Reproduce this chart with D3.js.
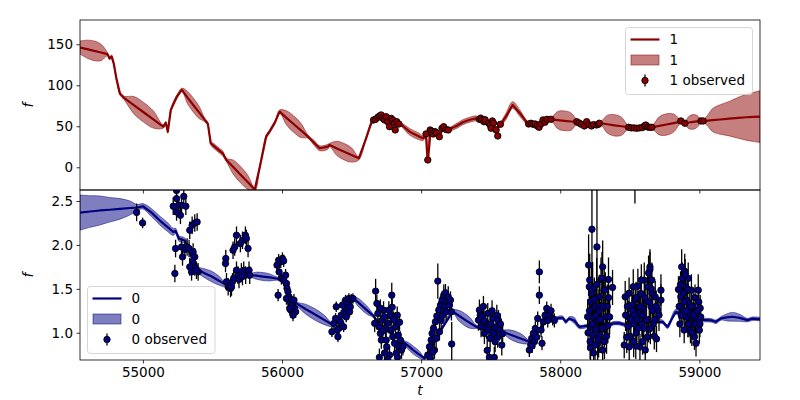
<!DOCTYPE html>
<html><head><meta charset="utf-8">
<script src="https://cdn.jsdelivr.net/npm/d3@7"></script>
<style>body{margin:0;background:#fff}svg{display:block}text{font-family:"DejaVu Sans",sans-serif;fill:#000}</style>
</head><body><svg id="c" width="800" height="400"></svg>
<script>
// ---------- data ----------
const xTicks = [55000, 56000, 57000, 58000, 59000];
const yTicksTop = [0, 50, 100, 150];
const yTicksBot = [1.0, 1.5, 2.0, 2.5];
const seriesTop = "1", seriesBot = "0";

// series "1" model (mean, half-width of band)
const model1T = [54548,54600,54650,54700,54745, 54760,54775,54790,54810,54835, 54864,54935,55005,55075,55146, 55165,55179,55201,55244,55280,
 55321,55362,55404,55445,55467, 55488,55510,55531,55552,55574, 55600,55651,55702,55753,55804, 55840,55886,55910,55950,55983,
 56034,56085,56136,56187,56230, 56271,56330,56342,56395,56447, 56500,56552,56600,56641,56660, 56690,56710,56740,56770,56800,
 56845,56917,56989,57012,57035, 57046,57050,57068,57100,57131, 57160,57195,57250,57300,57350, 57395,57420,57460,57500,57540,
 57570,57610,57658,57710,57766, 57800,57850,57890,57934,57982, 58030,58078,58125,58170,58230, 58290,58340,58390,58440,58491,
 58560,58620,58660,58712,58764, 58815,58867,58896,58925,58954, 58982,59011,59028,59045,59062, 59094,59150,59215,59280,59336,
 59390,59436];
const model1F = [146,144,142,140,138, 133,135,127,108,90, 84.7,75.8,67.1,58.3,49.5, 54,43.5,70,86,94.5,
 85,76,67,57.7,53, 29.3,26,23,20,17, 9,0,-9,-18,-27, 0,37.3,43.4,55,67.8,
 60,52.5,45,37.3,30, 23.2,25.1,27.2,23,19, 15,11,33,53.7,57.7, 61,63,59,55,56,
 53.7,43.4,37.3,35.4,38, 10,10,44,43,38.5, 47.6,46,50,55,58, 59.7,58.5,56,52,47,
 52.4,62,76,66,53.7, 53,52,56,58.5,57.6, 56.7,55.8,54.9,52,52, 53.7,52.5,51.2,50,48.8,
 48,49,48.8,50.5,52.2, 53.9,55.6,54,54.6,55.3, 55.9,56.5,56.5,56.7,57, 57.5,58.3,59.3,60.3,61,
 61.4,61.7];
const model1S = [8,11,12,10,2, 2,2,2,2,2, 2,10.5,12,10.5,2, 2,2,2,2,2,
 7.5,8.5,7.5,2,2, 2,3,3,3,3, 2,8.7,10,8.7,2, 2,2,2,2,2,
 8.7,10,8.7,2,3, 3,3,2,8.7,10, 8.7,2,2,2,2, 2,2,2,2,2,
 2,4,4,3,2, 3,3,2,2,2, 2,2,3,3,3, 3,2,2,2,2,
 2,4,4,4,2, 2,2,2,2,10.5, 12,10.5,2,2,2, 2,11,13,11,2,
 2,2,2,11,13, 11,2,2,7.5,9, 7.5,2,2,4,7, 14,18,21,25,28,
 30,31.5];

// series "1" observations
const obs1T = [56658,56673,56689,56701,56713,56725,56737,56749,56760,56773,56785,56796,56809,56814,56825,56840,
 57035,57048,57065,57076,57087,57100,57110,57131,57150,57162,57180,57195,
 57419,57428,57436,57452,57460,57486,57496,57503,57512,57520,57539,57551,57570,
 57773,57790,57805,57820,57835,57848,57862,57876,57891,57905,57934,
 58118,58135,58152,58173,58190,58205,58225,58240,58262,58275,58281,
 58491,58510,58530,58550,58570,58590,58605,58615,58630,58645,58659,
 58867,58896,59011,59028];
const obs1F = [57.7,58.5,61,62.6,63.8,59.7,57.7,61.7,55.6,49.5,59.7,57.7,53.7,45.5,55.6,52.8,
 40.6,8.9,45.5,44,40.6,43.4,42,37.3,47.6,49.5,46,45.5,
 58.5,60,57.7,55.6,58,53.7,51.6,47.6,56.5,54,45.5,38.2,52.4,
 52.8,53.7,52.4,52.8,50.4,48.8,53,57.7,55,58.5,58.5,
 55.6,54,52.4,50.4,55.6,52,50.4,52,51.6,52.5,53.7,
 48.8,48,48,47.6,48,48.4,50.4,51.5,49,48.8,48.8,
 56.5,53.7,56.5,56.5];
const obs1E = obs1T.map(() => 1.5);

// series "0" model
const model0T = [54548,54620,54691,54760,54835, 54907,54960,55000,55060,55120, 55180,55218,55235,55260,55301,
 55340,55385,55440,55495,55550, 55600,55650,55700,55768,55816, 55864,55912,55960,56000,56050,
 56103,56169,56235,56300,56366, 56400,56450,56509,56545,56580, 56616,56652,56700,56780,56869,
 56908,56946,56985,57024,57080, 57150,57228,57270,57311,57353, 57395,57450,57520,57586,57634,
 57682,57730,57778,57830,57880, 57934,57970,58018,58040,58065, 58101,58137,58200,58280,58352,
 58380,58420,58472,58550,58650, 58735,58771,58831,58900,58980, 59047,59090,59119,59155,59197,
 59238,59290,59345,59380,59436];
const model0F = [2.368,2.38,2.392,2.40,2.41, 2.42,2.425,2.44,2.37,2.28, 2.20,2.148,2.16,2.07,2.05,
 1.90,1.73,1.68,1.64,1.59, 1.542,1.6,1.68,1.656,1.65, 1.64,1.63,1.618,1.6,1.45,
 1.334,1.27,1.21,1.15,1.088, 1.12,1.25,1.39,1.35,1.30, 1.25,1.20,1.1,1.0,0.898,
 0.85,0.80,0.755,0.709,0.85, 1.05,1.239,1.196,1.153,1.11, 1.068,1.05,1.02,1.011,0.983,
 0.955,0.926,0.898,0.98,1.1, 1.15,1.163,1.17,1.125,1.163, 1.14,1.068,1.08,1.1,1.088,
 1.107,1.11,1.088,1.1,1.12, 1.125,1.068,1.239,1.2,1.15, 1.144,1.14,1.125,1.163,1.175,
 1.182,1.17,1.144,1.16,1.156];
const model0S = [0.20,0.18,0.165,0.14,0.117, 0.08,0.035,0.03,0.045,0.05, 0.05,0.04,0.03,0.03,0.03,
 0.03,0.03,0.05,0.06,0.05, 0.02,0.02,0.02,0.02,0.04, 0.045,0.04,0.02,0.02,0.02,
 0.02,0.055,0.065,0.055,0.02, 0.02,0.02,0.02,0.045,0.05, 0.045,0.02,0.02,0.02,0.02,
 0.04,0.045,0.04,0.02,0.02, 0.02,0.02,0.06,0.07,0.06, 0.02,0.02,0.02,0.02,0.05,
 0.06,0.05,0.02,0.02,0.02, 0.02,0.02,0.02,0.02,0.02, 0.035,0.02,0.02,0.02,0.02,
 0.02,0.02,0.02,0.02,0.02, 0.02,0.02,0.03,0.02,0.02, 0.02,0.02,0.02,0.02,0.04,
 0.05,0.04,0.02,0.02,0.02];

// series "0" observations
const obs0T = [54955,54998,
 55218,55242,55258,55270,55242,55278,55294,55309,55242,55235,55230,55278,55285,55302,55318,55332,55337,55354,55373,55390,55361,55373,55357,55373,55397,55337,55350,55385,
 55596,55594,55601,55613,55630,55644,55648,55660,55673,55673,55684,55691,55701,55716,55725,55737,55744,55756,55763,55739,55768,55708,55716,55637,55653,
 55972,55964,55976,55991,56003,56012,55979,55996,56012,56026,56032,56036,56043,56050,56055,56062,56075,56086,56091,56098,56062,56079,56032,56055,
 56359,56373,56385,56390,56402,56409,56419,56426,56434,56443,56450,56457,56467,56474,56481,56491,56498,56510,56486,56462,56395,
 56673,56682,56666,56689,56697,56707,56714,56721,56730,56737,56744,56749,56753,56761,56768,56778,56785,56789,56796,56802,56809,56816,56821,56828,56836,56840,56850,56859,56869,56773,56737,56707,56725,56792,56845,56700,56760,56830,
 57048,57060,57072,57079,57089,57096,57103,57108,57113,57120,57127,57132,57139,57144,57151,57156,57163,57170,57175,57180,57187,57195,57204,57211,57218,57220,57084,57065,
 57412,57419,57425,57431,57440,57448,57455,57462,57470,57479,57487,57491,57496,57503,57510,57515,57520,57526,57532,57538,57544,57550,57556,57563,57570,57580,57586,57475,57452,
 57778,57788,57795,57807,57814,57821,57831,57838,57850,57850,57862,57869,57879,57891,57903,57910,57922,57934,57946,57958,57798,
 58204,58209,58197,58218,58221,58228,58233,58235,58240,58252,58254,58264,58269,58273,58281,58285,58293,58297,58305,58316,58322,58328,58333,58347,58347,58376,58240,58218,58283,58324,58355,58305,
 58200,58210,58215,58226,58230,58245,58250,58258,58262,58276,58279,58289,58300,58310,58318,58338,58342,58212,58300,
 58537,
 58467,58460,58488,58491,58502,58515,58525,58530,58539,58548,58558,58563,58573,58580,58587,58597,58604,58611,58616,58628,58635,58645,58645,58652,58659,58669,58676,58683,58692,58700,58724,58724,58496,58592,58543,58659,58635,58568,
 58470,58478,58483,58495,58508,58520,58528,58535,58545,58552,58560,58575,58583,58590,58600,58608,58620,58625,58640,58648,58655,58665,58680,58690,58710,
 58850,58860,58867,58873,58878,58882,58891,58895,58903,58905,58910,58917,58920,58927,58936,58943,58950,58956,58965,58969,58976,58983,58992,59000,59006,59010,58898,58932,
 58855,58865,58870,58886,58892,58908,58913,58925,58940,58946,58960,58972,58988,58996,59004];
const obs0F = [2.37,2.25,
 2.44,2.527,2.451,2.337,2.375,2.451,2.553,2.44,2.62,1.959,1.675,1.977,1.864,1.948,1.977,1.959,2.167,2.224,2.25,2.261,1.92,1.864,1.807,1.75,1.693,1.75,1.693,1.712,
 1.845,1.789,1.58,1.523,1.505,1.58,1.94,1.977,2.11,1.712,1.656,1.607,2.016,2.053,1.712,2.11,2.073,1.959,1.712,1.656,1.656,1.693,1.64,1.52,1.62,
 1.428,1.77,1.826,1.807,1.845,1.818,1.693,1.618,1.599,1.656,1.561,1.505,1.466,1.409,1.372,1.334,1.315,1.372,1.277,1.239,1.258,1.2,1.39,1.277,
 1.011,1.107,1.163,1.296,0.955,1.05,1.125,1.2,1.315,1.068,1.239,1.372,1.277,1.334,1.39,1.296,1.38,1.39,1.24,1.18,1.03,
 1.474,1.334,1.107,1.22,1.068,0.993,0.917,1.144,1.258,1.182,1.05,0.917,0.841,1.107,1.258,1.2,1.031,1.428,0.955,1.144,0.88,1.068,0.766,1.2,0.974,0.841,0.917,0.803,0.841,0.747,0.77,1.28,1.02,1.29,1.12,0.72,0.7,0.72,
 0.747,0.841,0.917,0.993,1.05,0.803,1.125,0.936,1.19,1.588,1.258,1.011,1.315,1.144,1.372,1.2,1.428,1.296,1.455,1.239,1.353,1.409,1.315,1.372,1.239,0.872,0.78,0.71,
 1.144,1.258,1.2,1.068,1.18,1.3,0.993,1.12,1.05,1.22,1.03,0.72,0.936,1.1,1.25,1.163,0.99,0.72,0.898,1.06,1.2,0.95,1.14,1.031,1.1,0.86,0.99,0.8,1.14,
 0.803,0.86,0.936,0.993,0.9,1.05,0.95,1.163,1.693,1.428,1.031,0.88,1.125,1.2,1.277,1.14,1.2,1.25,1.163,1.14,0.85,
 1.77,1.523,1.182,1.35,1.068,2.178,1.505,0.97,1.18,1.296,1.04,1.977,0.88,1.14,1.409,0.97,1.607,1.3,0.803,1.485,1.07,1.18,0.96,1.607,1.4,1.516,0.77,0.83,1.3,1.49,1.18,1.75,
 1.0,1.25,0.9,1.45,1.1,1.38,0.86,1.2,1.55,0.92,1.25,1.15,1.05,1.3,0.9,1.3,1.08,1.6,1.62,
 2.72,
 1.409,0.86,1.07,1.182,0.96,1.315,1.523,1.1,1.372,1.0,1.53,1.22,0.84,1.447,1.1,1.277,1.599,0.803,1.36,1.523,1.04,1.75,1.72,1.3,1.6,1.1,0.96,1.409,0.93,1.26,1.485,1.372,0.84,0.9,0.85,1.45,1.68,1.29,
 1.2,0.95,1.3,1.45,1.15,1.25,0.9,1.2,1.4,1.15,1.05,1.3,1.6,1.2,1.05,1.4,1.15,0.95,1.35,1.05,1.5,1.25,1.15,1.3,1.2,
 1.493,1.1,1.409,1.75,1.62,1.26,1.031,1.7,1.523,1.18,1.37,1.1,1.62,1.33,1.03,1.485,1.18,1.3,0.955,1.4,0.88,1.14,1.485,1.03,1.28,1.18,1.66,1.22,
 1.3,1.55,1.2,1.45,1.35,1.25,1.5,1.1,1.3,1.0,1.2,1.1,1.25,1.35,1.1];
const obs0E = [0.1,0.06,
 0.1,0.1,0.1,0.1,0.1,0.1,0.1,0.1,0.1,0.1,0.1,0.1,0.1,0.1,0.1,0.1,0.1,0.1,0.1,0.1,0.1,0.1,0.1,0.1,0.1,0.1,0.1,0.1,
 0.1,0.1,0.1,0.1,0.1,0.1,0.1,0.1,0.1,0.1,0.1,0.1,0.1,0.1,0.1,0.1,0.1,0.1,0.1,0.1,0.1,0.1,0.1,0.1,0.1,
 0.07,0.07,0.07,0.07,0.07,0.07,0.07,0.07,0.07,0.07,0.07,0.07,0.07,0.07,0.07,0.07,0.07,0.07,0.07,0.07,0.07,0.07,0.07,0.07,
 0.06,0.06,0.06,0.06,0.06,0.06,0.06,0.06,0.06,0.06,0.06,0.06,0.06,0.06,0.06,0.06,0.06,0.06,0.06,0.06,0.06,
 0.14,0.1,0.1,0.1,0.1,0.1,0.1,0.1,0.1,0.1,0.1,0.1,0.1,0.1,0.1,0.1,0.1,0.14,0.1,0.1,0.1,0.1,0.1,0.1,0.1,0.1,0.1,0.1,0.1,0.1,0.1,0.1,0.1,0.1,0.1,0.1,0.1,0.1,
 0.1,0.1,0.1,0.1,0.1,0.1,0.1,0.1,0.1,0.2,0.1,0.1,0.1,0.1,0.1,0.1,0.12,0.1,0.1,0.1,0.1,0.12,0.1,0.1,0.1,0.25,0.1,0.1,
 0.12,0.12,0.12,0.12,0.12,0.12,0.12,0.12,0.12,0.12,0.12,0.12,0.12,0.12,0.12,0.12,0.12,0.12,0.12,0.12,0.12,0.12,0.12,0.12,0.12,0.12,0.12,0.12,0.12,
 0.08,0.08,0.08,0.08,0.08,0.08,0.08,0.08,0.13,0.1,0.08,0.08,0.08,0.08,0.08,0.08,0.08,0.08,0.08,0.08,0.08,
 0.35,0.25,0.2,0.2,0.2,0.5,0.3,0.2,0.25,0.2,0.2,0.65,0.2,0.25,0.25,0.2,0.25,0.2,0.2,0.25,0.2,0.2,0.2,0.25,0.2,0.2,0.2,0.2,0.2,0.2,0.2,0.3,
 0.2,0.25,0.2,0.3,0.25,0.25,0.2,0.25,0.3,0.2,0.25,0.2,0.25,0.3,0.2,0.25,0.2,0.3,0.3,
 0.25,
 0.18,0.15,0.15,0.18,0.15,0.18,0.2,0.15,0.18,0.15,0.2,0.15,0.15,0.2,0.15,0.18,0.2,0.15,0.18,0.2,0.15,0.2,0.2,0.15,0.2,0.15,0.15,0.18,0.15,0.15,0.18,0.18,0.15,0.15,0.15,0.18,0.2,0.15,
 0.18,0.18,0.18,0.18,0.18,0.18,0.18,0.18,0.18,0.18,0.18,0.18,0.18,0.18,0.18,0.18,0.18,0.18,0.18,0.18,0.18,0.18,0.18,0.18,0.18,
 0.15,0.15,0.18,0.2,0.18,0.15,0.15,0.2,0.18,0.15,0.15,0.15,0.18,0.15,0.15,0.18,0.15,0.15,0.15,0.15,0.15,0.15,0.18,0.15,0.15,0.15,0.18,0.15,
 0.15,0.15,0.15,0.15,0.15,0.15,0.15,0.15,0.15,0.15,0.15,0.15,0.15,0.15,0.15];

// ---------- drawing ----------
const svg = d3.select("#c");
const L = 80, R = 760;
const top1 = 20, bot1 = 190, top2 = 190, bot2 = 360;
const x = d3.scaleLinear().domain([54548, 59436]).range([L, R]);
const y1 = d3.scaleLinear().domain([-27.7, 179.6]).range([bot1, top1]);
const y2 = d3.scaleLinear().domain([0.69, 2.625]).range([bot2, top2]);
const red = "#8b0000", navy = "#000080";

const defs = svg.append("defs");
defs.append("clipPath").attr("id", "cp1").append("rect").attr("x", L).attr("y", top1).attr("width", R - L).attr("height", bot1 - top1);
defs.append("clipPath").attr("id", "cp2").append("rect").attr("x", L).attr("y", top2).attr("width", R - L).attr("height", bot2 - top2);

function panel(clip, y, mT, mF, mS, oT, oF, oE, color) {
  const g = svg.append("g").attr("clip-path", `url(#${clip})`);
  const rows = mT.map((t, i) => ({ t, f: mF[i], s: mS[i] }));
  const area = d3.area().x(d => x(d.t)).y0(d => y(d.f - d.s)).y1(d => y(d.f + d.s)).curve(d3.curveCatmullRom.alpha(0.5));
  g.append("path").datum(rows).attr("d", area)
    .attr("fill", color).attr("fill-opacity", 0.5).attr("stroke", color).attr("stroke-opacity", 0.5).attr("stroke-width", 1);
  const line = d3.line().x(d => x(d.t)).y(d => y(d.f));
  g.append("path").datum(rows).attr("d", line).attr("fill", "none").attr("stroke", color).attr("stroke-width", 2.2).attr("stroke-linejoin", "round");
  const obs = oT.map((t, i) => ({ t, f: oF[i], e: oE[i] }));
  g.append("g").selectAll("line").data(obs).join("line")
    .attr("x1", d => x(d.t)).attr("x2", d => x(d.t))
    .attr("y1", d => y(d.f - d.e)).attr("y2", d => y(d.f + d.e))
    .attr("stroke", "#000").attr("stroke-width", 1.3);
  g.append("g").selectAll("circle").data(obs).join("circle")
    .attr("cx", d => x(d.t)).attr("cy", d => y(d.f)).attr("r", 3.2)
    .attr("fill", color).attr("stroke", "#000").attr("stroke-width", 0.9);
}
panel("cp1", y1, model1T, model1F, model1S, obs1T, obs1F, obs1E, red);
panel("cp2", y2, model0T, model0F, model0S, obs0T, obs0F, obs0E, navy);

// axes
const fs = "13.5px";
function styleAxis(g) {
  g.selectAll("path.domain").remove();
  g.selectAll(".tick line").attr("stroke", "#000").attr("stroke-width", 0.8);
  g.selectAll(".tick text").style("font-size", fs).attr("fill", "#000");
}
svg.append("g").attr("transform", `translate(0,${bot1})`)
  .call(d3.axisBottom(x).tickValues(xTicks).tickSize(3.5).tickFormat("")).call(styleAxis);
svg.append("g").attr("transform", `translate(0,${bot2})`)
  .call(d3.axisBottom(x).tickValues(xTicks).tickSize(3.5).tickPadding(3.5).tickFormat(d3.format("d"))).call(styleAxis);
svg.append("g").attr("transform", `translate(${L},0)`)
  .call(d3.axisLeft(y1).tickValues(yTicksTop).tickSize(3.5).tickPadding(3.5).tickFormat(d3.format("d"))).call(styleAxis);
svg.append("g").attr("transform", `translate(${L},0)`)
  .call(d3.axisLeft(y2).tickValues(yTicksBot).tickSize(3.5).tickPadding(3.5).tickFormat(d3.format(".1f"))).call(styleAxis);

// frames
[[top1, bot1], [top2, bot2]].forEach(([a, b]) => {
  svg.append("rect").attr("x", L).attr("y", a).attr("width", R - L).attr("height", b - a)
    .attr("fill", "none").attr("stroke", "#000").attr("stroke-width", 0.8);
});

// axis labels
svg.append("text").attr("transform", `translate(33,${(top1 + bot1) / 2}) rotate(-90)`).attr("text-anchor", "middle")
  .style("font-size", fs).style("font-style", "italic").text("f");
svg.append("text").attr("transform", `translate(33,${(top2 + bot2) / 2}) rotate(-90)`).attr("text-anchor", "middle")
  .style("font-size", fs).style("font-style", "italic").text("f");
svg.append("text").attr("x", (L + R) / 2).attr("y", 395).attr("text-anchor", "middle")
  .style("font-size", fs).style("font-style", "italic").text("t");

// legends
function legend(x0, y0, w, h, color, name) {
  const g = svg.append("g");
  g.append("rect").attr("x", x0).attr("y", y0).attr("width", w).attr("height", h).attr("rx", 3)
    .attr("fill", "#fff").attr("fill-opacity", 0.8).attr("stroke", "#ccc").attr("stroke-width", 0.8);
  const lx = x0 + 5, tx = x0 + 44;
  const r1 = y0 + 12, r2 = y0 + 32.5, r3 = y0 + 53;
  g.append("line").attr("x1", lx).attr("x2", lx + 29).attr("y1", r1).attr("y2", r1).attr("stroke", color).attr("stroke-width", 2.2);
  g.append("rect").attr("x", lx + 0.5).attr("y", r2 - 5).attr("width", 28).attr("height", 10)
    .attr("fill", color).attr("fill-opacity", 0.5).attr("stroke", color).attr("stroke-opacity", 0.5);
  g.append("line").attr("x1", lx + 14.5).attr("x2", lx + 14.5).attr("y1", r3 - 6).attr("y2", r3 + 6).attr("stroke", "#000").attr("stroke-width", 1.3);
  g.append("circle").attr("cx", lx + 14.5).attr("cy", r3).attr("r", 3.2).attr("fill", color).attr("stroke", "#000").attr("stroke-width", 0.9);
  [[r1, name], [r2, name], [r3, name + " observed"]].forEach(([yy, t]) => {
    g.append("text").attr("x", tx).attr("y", yy).attr("dy", "0.35em").style("font-size", fs).text(t);
  });
}
legend(625.5, 27.5, 127, 67, red, seriesTop);
legend(87.5, 286.5, 127.5, 67, navy, seriesBot);
</script></body></html>
